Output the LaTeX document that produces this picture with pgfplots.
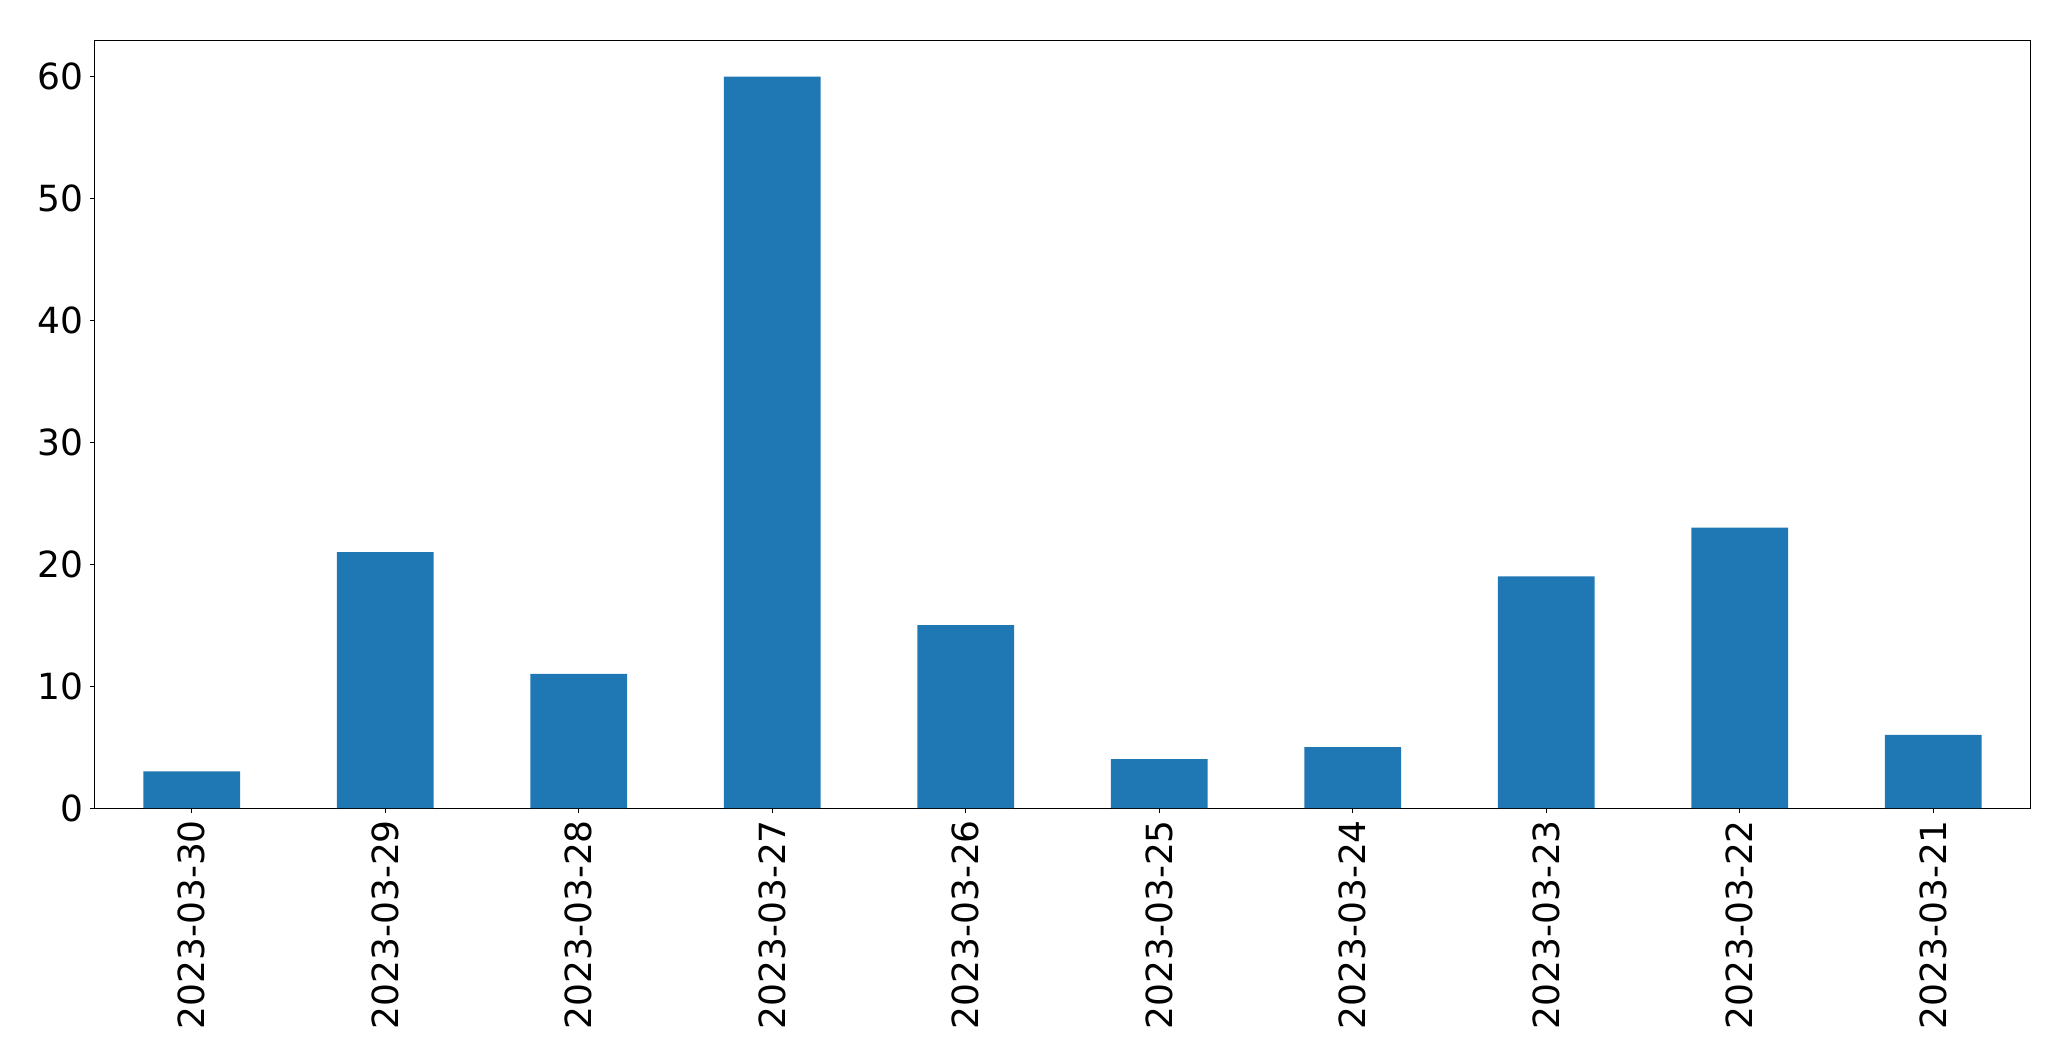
\documentclass[border=0pt]{standalone}
\usepackage{pgfplots}
\pgfplotsset{compat=1.18}
\usepackage{fontspec}
\setmainfont{DejaVu Sans}
\definecolor{tabblue}{HTML}{1F77B4}
\begin{document}
\begin{tikzpicture}
\useasboundingbox (-47.5pt,-126.5pt) rectangle (988pt,404pt);
\begin{axis}[
  scale only axis,
  width=967.5pt, height=384pt,
  at={(0,0)}, anchor=south west,
  xmin=-0.5, xmax=9.5, ymin=0, ymax=63,
  xtick={0,...,9},
  xticklabels={2023-03-30,2023-03-29,2023-03-28,2023-03-27,2023-03-26,2023-03-25,2023-03-24,2023-03-23,2023-03-22,2023-03-21},
  ytick={0,10,20,30,40,50,60},
  x tick label style={rotate=90, anchor=east},
  tick label style={font=\fontsize{18}{22}\selectfont},
  /pgf/number format/assume math mode=true,
  tick align=outside,
  major tick length=2.5pt,
  tick style={black, line width=0.5pt},
  xtick pos=bottom, ytick pos=left,
  axis line style={line width=0.5pt},
  enlargelimits=false,
]
\addplot[ybar, bar width=0.5, fill=tabblue, draw=none] coordinates {
(0,3) (1,21) (2,11) (3,60) (4,15) (5,4) (6,5) (7,19) (8,23) (9,6)
};
\end{axis}
\end{tikzpicture}
\end{document}
